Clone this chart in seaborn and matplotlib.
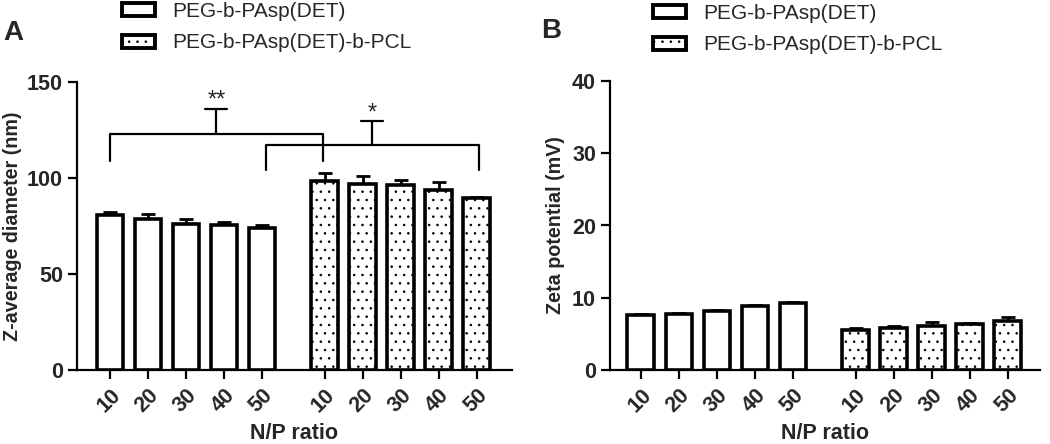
import matplotlib
matplotlib.use("Agg")
import matplotlib.pyplot as plt
from matplotlib.patches import Patch
import numpy as np
import pandas as pd
import seaborn as sns

# N/P ratios and the two polymers
ratios = ["10", "20", "30", "40", "50"]
polymers = ["PEG-b-PAsp(DET)", "PEG-b-PAsp(DET)-b-PCL"]

# panel A: Z-average diameter (nm), mean and upper SD
size_peg = [80.5, 78.5, 76.0, 75.3, 74.0]
size_peg_err = [2.0, 2.8, 2.5, 2.0, 1.5]
size_pcl = [98.5, 97.0, 96.5, 93.5, 89.8]
size_pcl_err = [4.0, 4.0, 2.5, 4.5, 0.4]

# panel B: zeta potential (mV)
zeta_peg = [7.6, 7.75, 8.1, 8.85, 9.25]
zeta_peg_err = [0.1, 0.15, 0.15, 0.15, 0.2]
zeta_pcl = [5.55, 5.75, 6.05, 6.35, 6.85]
zeta_pcl_err = [0.3, 0.3, 0.6, 0.2, 0.5]

# significance brackets in panel A
bracket_left = [0.0, 4.1]
bracket_right = [5.6, 9.7]
bracket_y = [123, 117]
bracket_foot = [109, 104]
bracket_top = [136, 129.5]
bracket_stars = ["**", "*"]

# bar positions (GraphPad-style gap between the two groups)
positions = [0, 1, 2, 3, 4, 5.65, 6.65, 7.65, 8.65, 9.65]

sns.set_style("ticks")
plt.rcParams["font.family"] = ["Liberation Sans", "DejaVu Sans"]
plt.rcParams["hatch.color"] = "black"
plt.rcParams["hatch.linewidth"] = 0.6

LW = 2.6


def draw_panel(ax, peg, peg_err, pcl, pcl_err):
    df = pd.DataFrame({
        "pos": positions,
        "value": peg + pcl,
        "polymer": [polymers[0]] * 5 + [polymers[1]] * 5,
    })
    sns.barplot(data=df, x="pos", y="value", hue="polymer", native_scale=True,
                dodge=False, width=0.7, palette=["white", "white"],
                edgecolor="black", linewidth=LW, errorbar=None, legend=False,
                ax=ax, zorder=3)
    for bar in ax.containers[1]:
        bar.set_hatch("..")
    err = peg_err + pcl_err
    ax.errorbar(positions, df["value"], yerr=[np.zeros(len(err)), err],
                fmt="none", ecolor="black", elinewidth=2.0, capsize=4.7,
                capthick=2.0, zorder=2)
    ax.set_xticks(positions)
    ax.set_xticklabels(ratios * 2, rotation=45, ha="right",
                       rotation_mode="anchor", fontweight="bold", fontsize=15.5)
    ax.tick_params(axis="both", width=1.6, length=6.5, color="black")
    ax.tick_params(axis="x", pad=4)
    for s in ["left", "bottom"]:
        ax.spines[s].set_linewidth(1.6)
        ax.spines[s].set_color("black")
    sns.despine(ax=ax)
    ax.set_xlabel("N/P ratio", fontsize=15.5, fontweight="bold", labelpad=5)


fig = plt.figure(figsize=(10.5, 4.44), dpi=100)
axA = fig.add_axes([77 / 1050, 1 - 370 / 444, 435 / 1050, 288 / 444])
axB = fig.add_axes([610 / 1050, 1 - 370 / 444, 430 / 1050, 289 / 444])

draw_panel(axA, size_peg, size_peg_err, size_pcl, size_pcl_err)
axA.set_ylim(0, 150)
axA.set_yticks([0, 50, 100, 150])
axA.set_yticklabels(["0", "50", "100", "150"], fontweight="bold", fontsize=15.5)
axA.set_xlim(-0.87, 10.58)
axA.set_ylabel("Z-average diameter (nm)", fontsize=14.2, fontweight="bold", labelpad=4)

for l, r, y, foot, top, star in zip(bracket_left, bracket_right, bracket_y,
                                    bracket_foot, bracket_top, bracket_stars):
    mid = (l + r) / 2
    axA.plot([l, l, r, r], [foot, y, y, foot], color="black", lw=1.6, clip_on=False)
    axA.plot([mid, mid], [y, top], color="black", lw=1.6, clip_on=False)
    axA.plot([mid - 0.29, mid + 0.29], [top, top], color="black", lw=1.6, clip_on=False)
    axA.text(mid, top + 1, star, ha="center", va="baseline", fontsize=17)

draw_panel(axB, zeta_peg, zeta_peg_err, zeta_pcl, zeta_pcl_err)
axB.set_ylim(0, 40)
axB.set_yticks([0, 10, 20, 30, 40])
axB.set_yticklabels(["0", "10", "20", "30", "40"], fontweight="bold", fontsize=15.5)
axB.set_xlim(-0.81, 10.5)
axB.set_ylabel("Zeta potential (mV)", fontsize=14.2, fontweight="bold", labelpad=5)

handles = [Patch(facecolor="white", edgecolor="black", linewidth=2.8),
           Patch(facecolor="white", edgecolor="black", linewidth=2.8, hatch="..")]
for x0, y0 in [(122, 2), (653, 4)]:
    fig.legend(handles, polymers, loc="upper left",
               bbox_to_anchor=(x0 / 1050, 1 - y0 / 444), frameon=False,
               fontsize=15, borderpad=0, borderaxespad=0, handlelength=1.6,
               handleheight=0.6, handletextpad=0.8, labelspacing=0.6)

fig.text(3 / 1050, 1 - 40 / 444, "A", fontsize=20, fontweight="bold")
fig.text(541 / 1050, 1 - 38 / 444, "B", fontsize=20, fontweight="bold")

fig.savefig("out.png", dpi=100)
